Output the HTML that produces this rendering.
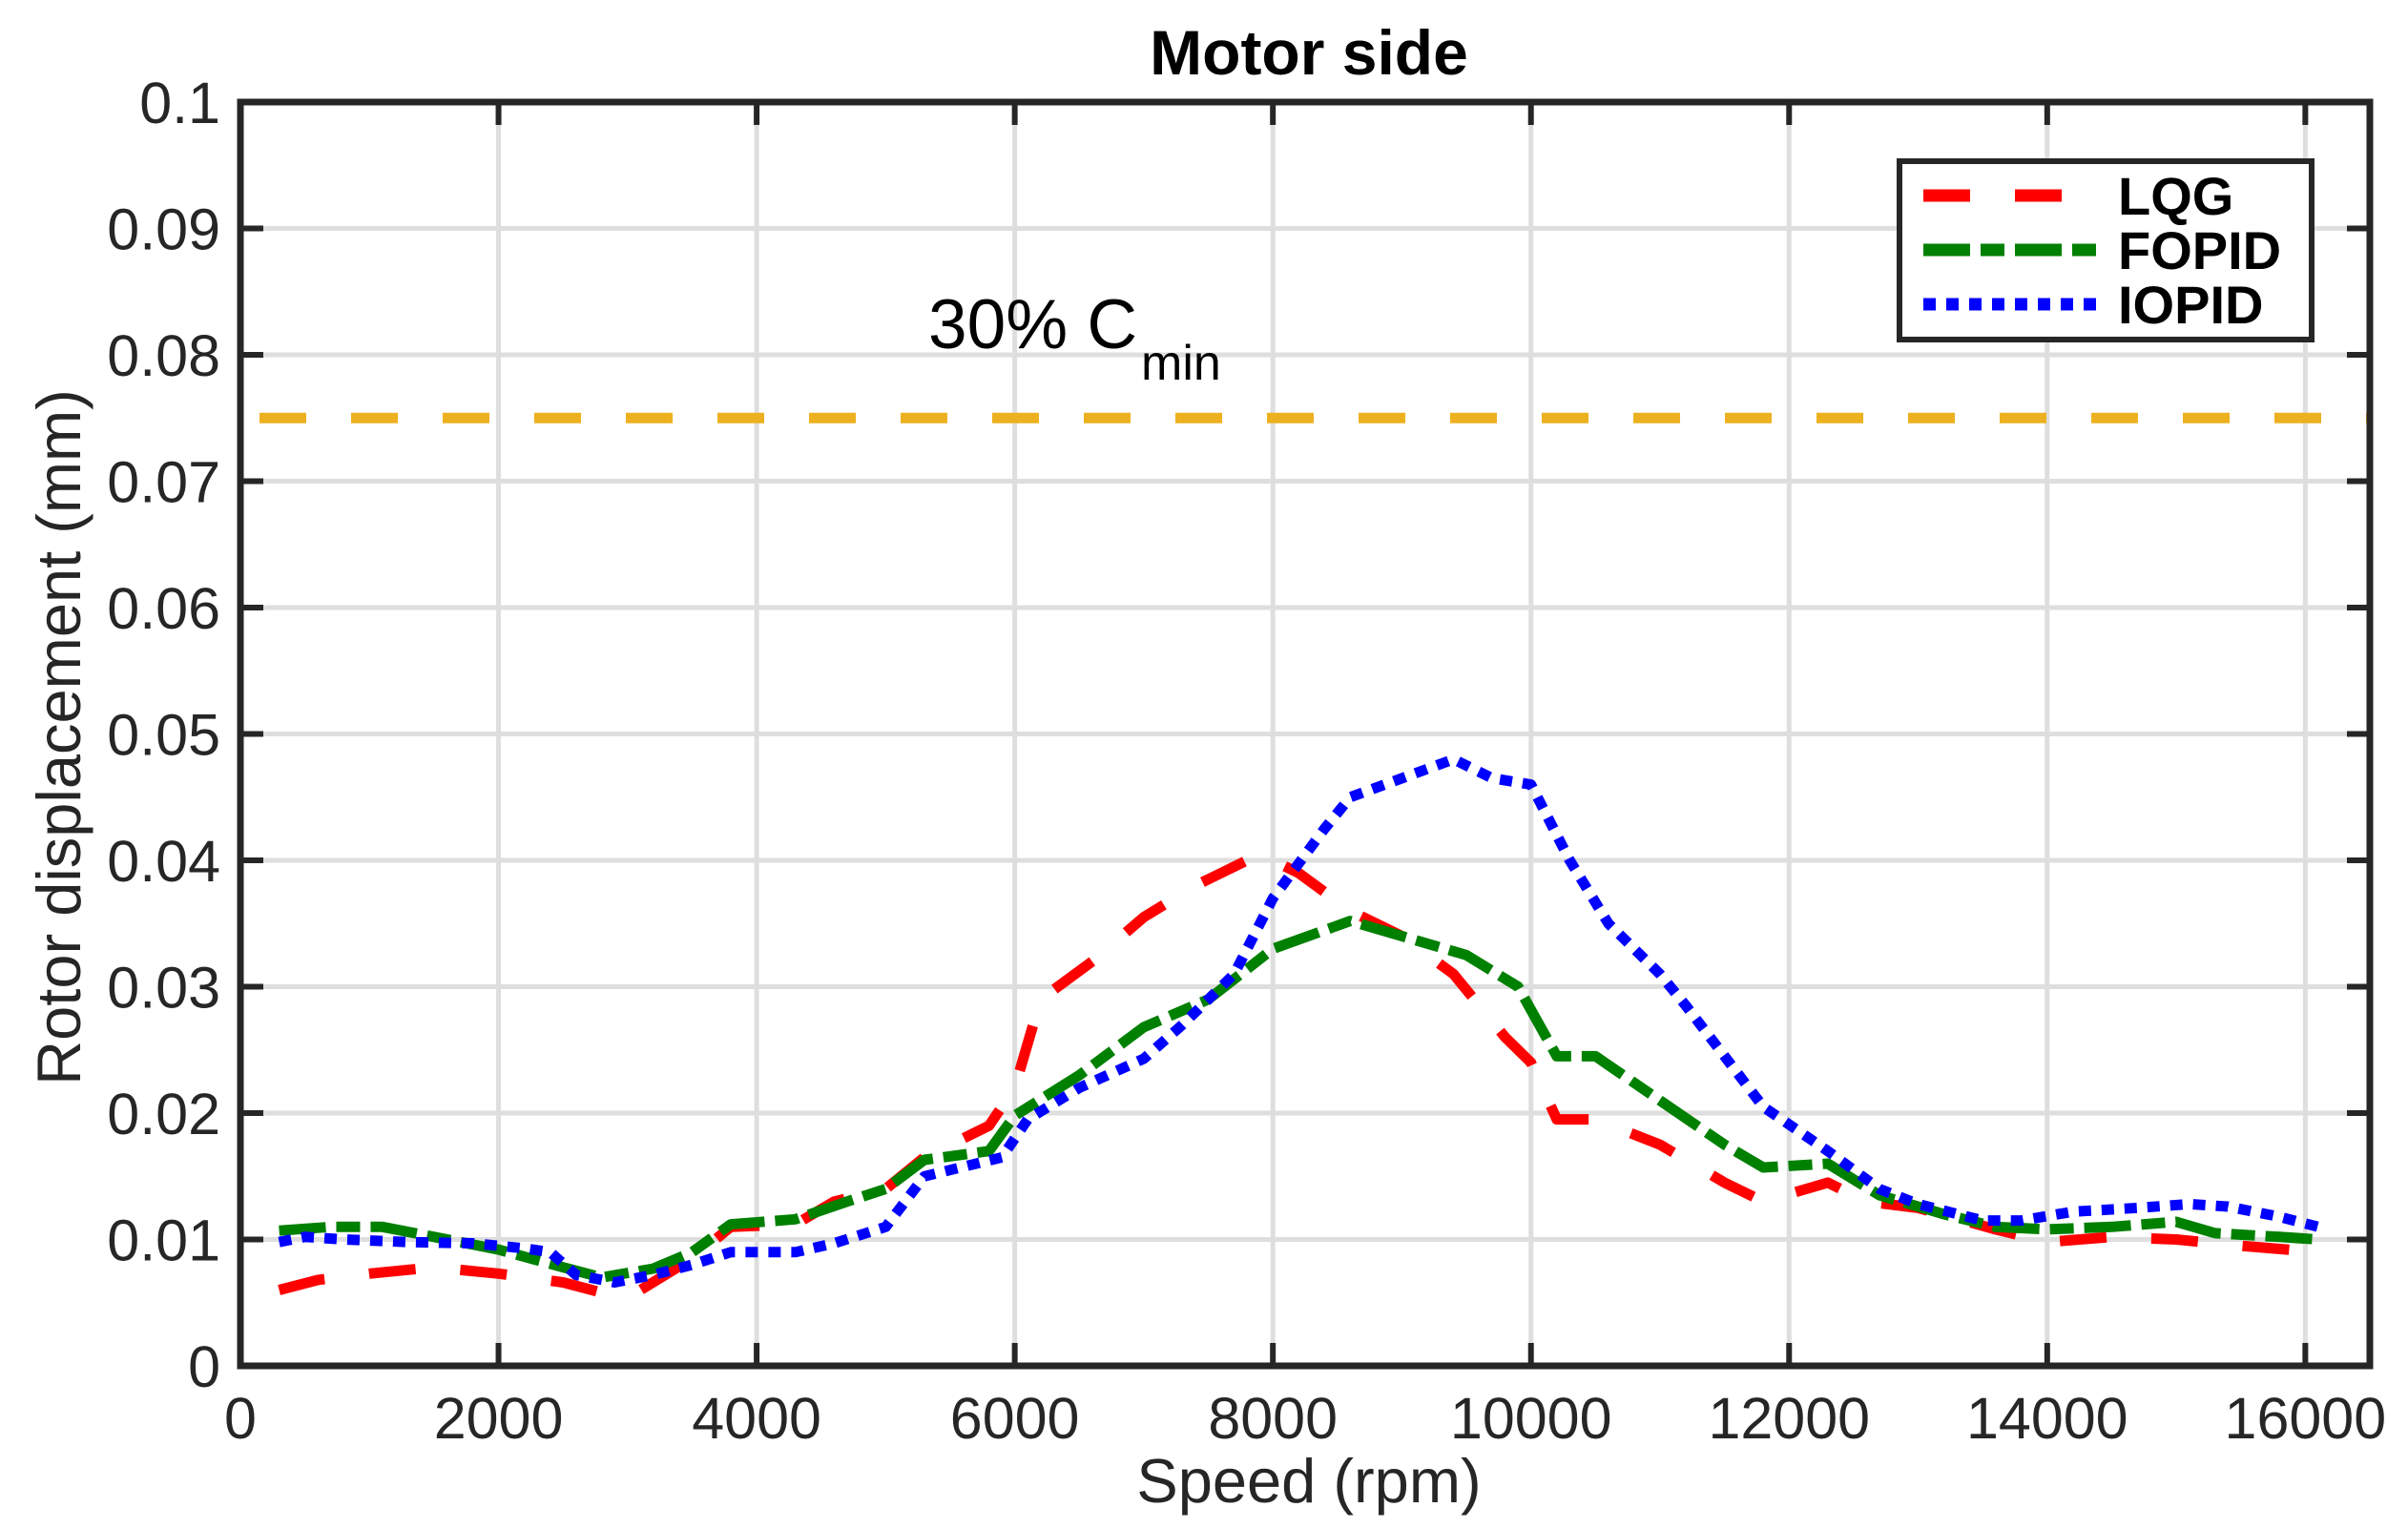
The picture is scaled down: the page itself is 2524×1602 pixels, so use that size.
<!DOCTYPE html>
<html><head><meta charset="utf-8"><style>
html,body{margin:0;padding:0;background:#fff;}
svg{display:block;font-family:"Liberation Sans",sans-serif;}
</style></head><body>
<svg id="chart" width="2524" height="1602" viewBox="0 0 2524 1602">
<g id="grid"></g>
<g id="series"></g>
<g id="axes"></g>
<text x="1372" y="78" text-anchor="middle" font-size="66" font-weight="bold" fill="#000">Motor side</text>
<text x="1372" y="1575" text-anchor="middle" font-size="65" fill="#262626">Speed (rpm)</text>
<text transform="translate(84,773) rotate(-90)" text-anchor="middle" font-size="65" fill="#262626">Rotor displacement (mm)</text>
<text x="973" y="365" font-size="73" fill="#000">30% C<tspan x="1196" y="398" font-size="52">min</tspan></text>
<g>
<rect x="1991" y="169" width="432" height="187" fill="#fff" stroke="#262626" stroke-width="6"/>
<line x1="2016" y1="205" x2="2198" y2="205" stroke="#ff0000" stroke-width="13" stroke-dasharray="49,47"/>
<text x="2220" y="225" font-size="56" font-weight="bold" fill="#000">LQG</text>
<line x1="2016" y1="262" x2="2198" y2="262" stroke="#008000" stroke-width="13" stroke-dasharray="49,11,25,11"/>
<text x="2220" y="282" font-size="56" font-weight="bold" fill="#000">FOPID</text>
<line x1="2016" y1="319" x2="2198" y2="319" stroke="#0000ff" stroke-width="13" stroke-dasharray="13,11"/>
<text x="2220" y="339" font-size="56" font-weight="bold" fill="#000">IOPID</text>
</g>
</svg>
<script>
const xTicks=[0,2000,4000,6000,8000,10000,12000,14000,16000];
const yTicks=[0,0.01,0.02,0.03,0.04,0.05,0.06,0.07,0.08,0.09,0.1];
const yTickLabels=["0","0.01","0.02","0.03","0.04","0.05","0.06","0.07","0.08","0.09","0.1"];
const thresholdValue=0.075;
const lqgX=[300,600,1000,1500,2000,2500,2800,3100,3500,3800,4300,4600,5000,5300,5800,6000,6200,6600,7000,7400,7900,8200,8600,9000,9400,9800,10000,10200,10500,11000,11500,11800,12300,12600,13000,13600,14000,14500,15000,15500,16100];
const lqgY=[0.006,0.0068,0.0073,0.0078,0.0073,0.0066,0.0058,0.006,0.0085,0.011,0.0112,0.013,0.014,0.0165,0.019,0.022,0.029,0.032,0.0355,0.038,0.0405,0.039,0.036,0.034,0.031,0.026,0.024,0.0195,0.0195,0.0175,0.0145,0.013,0.0145,0.013,0.0125,0.0108,0.0098,0.0102,0.01,0.0095,0.009];
const fopidX=[300,700,1100,1500,2000,2500,2800,3200,3500,3800,4300,4700,5000,5300,5800,6000,6500,7000,7500,8000,8600,9000,9500,9900,10200,10500,11000,11500,11800,12300,12700,13200,13600,14000,14500,15000,15300,15800,16100];
const fopidY=[0.0107,0.011,0.011,0.0102,0.0092,0.0078,0.007,0.0077,0.009,0.0112,0.0116,0.013,0.014,0.0163,0.017,0.0198,0.023,0.0268,0.029,0.033,0.0352,0.034,0.0325,0.03,0.0245,0.0245,0.021,0.0175,0.0157,0.016,0.0135,0.012,0.011,0.0108,0.011,0.0114,0.0105,0.0102,0.01];
const iopidX=[300,500,800,1300,1800,2200,2400,2600,2900,3200,3500,3800,4300,4600,5000,5300,5900,6100,6500,7000,7300,7700,8000,8400,8600,9000,9400,9700,10000,10300,10600,11000,11200,11500,11800,12300,12700,13000,13500,13800,14200,14700,15100,15400,15800,16100];
const iopidY=[0.0098,0.0102,0.01,0.0098,0.0097,0.0093,0.009,0.0072,0.0066,0.0072,0.008,0.009,0.009,0.0097,0.011,0.015,0.0165,0.0195,0.022,0.0243,0.027,0.031,0.037,0.0425,0.045,0.0465,0.048,0.0465,0.046,0.04,0.035,0.031,0.0285,0.0245,0.0205,0.017,0.014,0.0128,0.0115,0.0115,0.0122,0.0125,0.0128,0.0126,0.0118,0.011];

const L=252,R=2484,T=107,B=1432,XMAX=16500,YMAX=0.1;
function sx(v){return L+v/XMAX*(R-L);}
function sy(v){return B-v/YMAX*(B-T);}
const NS="http://www.w3.org/2000/svg";
function mk(tag,parent,attrs){const e=document.createElementNS(NS,tag);for(const k in attrs)e.setAttribute(k,attrs[k]);parent.appendChild(e);return e;}
const grid=document.getElementById('grid'),axes=document.getElementById('axes'),series=document.getElementById('series');
xTicks.forEach((t,i)=>{
  const g=mk('line',grid,{x1:sx(t),x2:sx(t),y1:T,y2:B,stroke:'#dedede','stroke-width':5});
  
  
  const a=mk('line',axes,{x1:sx(t),x2:sx(t),y1:B,y2:B-24,stroke:'#262626','stroke-width':6});
  
  
  const b=mk('line',axes,{x1:sx(t),x2:sx(t),y1:T,y2:T+24,stroke:'#262626','stroke-width':6});
  
  
  const tx=mk('text',axes,{x:sx(t),y:1508,'text-anchor':'middle','font-size':61,fill:'#262626'});
  tx.textContent=String(t);
  
  
});
yTicks.forEach((t,i)=>{
  const g=mk('line',grid,{x1:L,x2:R,y1:sy(t),y2:sy(t),stroke:'#dedede','stroke-width':5});
  
  
  const a=mk('line',axes,{x1:L,x2:L+24,y1:sy(t),y2:sy(t),stroke:'#262626','stroke-width':6});
  
  
  const b=mk('line',axes,{x1:R,x2:R-24,y1:sy(t),y2:sy(t),stroke:'#262626','stroke-width':6});
  
  
  const tx=mk('text',axes,{x:231,y:sy(t)+22,'text-anchor':'end','font-size':61,fill:'#262626'});
  tx.textContent=yTickLabels[i];
  
  
});
const frame=mk('rect',axes,{x:L,y:T,width:R-L,height:B-T,fill:'none',stroke:'#262626','stroke-width':7});


const th=mk('line',series,{x1:L,x2:R,y1:sy(thresholdValue),y2:sy(thresholdValue),stroke:'#edb120','stroke-width':11,'stroke-dasharray':'49,47','stroke-dashoffset':'-20'});


function path(xs,ys){return xs.map((x,i)=>(i?'L':'M')+sx(x).toFixed(1)+','+sy(ys[i]).toFixed(1)).join(' ');}
const p1=mk('path',series,{d:path(lqgX,lqgY),fill:'none',stroke:'#ff0000','stroke-width':11,'stroke-dasharray':'49,47','stroke-linejoin':'round'});


const p2=mk('path',series,{d:path(fopidX,fopidY),fill:'none',stroke:'#008000','stroke-width':11,'stroke-dasharray':'49,11,25,11','stroke-linejoin':'round'});


const p3=mk('path',series,{d:path(iopidX,iopidY),fill:'none',stroke:'#0000ff','stroke-width':11,'stroke-dasharray':'13,11','stroke-linejoin':'round'});


</script>
</body></html>
